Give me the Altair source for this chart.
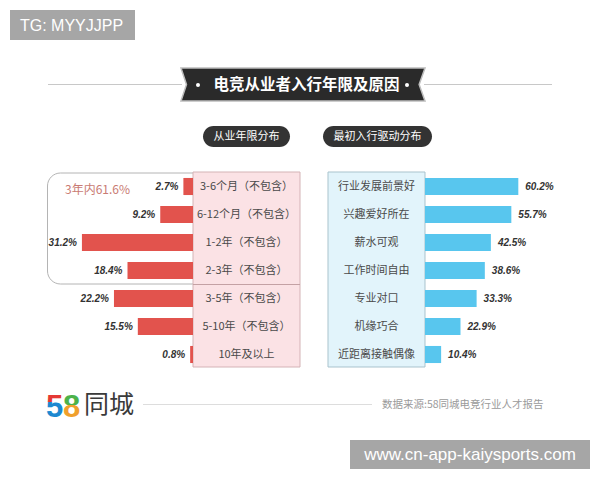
import altair as alt
import pandas as pd

# ---------------- data ----------------
left_labels = ["3-6个月（不包含）", "6-12个月（不包含）", "1-2年（不包含）", "2-3年（不包含）",
               "3-5年（不包含）", "5-10年（不包含）", "10年及以上"]
left_values = [2.7, 9.2, 31.2, 18.4, 22.2, 15.5, 0.8]
right_labels = ["行业发展前景好", "兴趣爱好所在", "薪水可观", "工作时间自由",
                "专业对口", "机缘巧合", "近距离接触偶像"]
right_values = [60.2, 55.7, 42.5, 38.6, 33.3, 22.9, 10.4]

title_text = "电竞从业者入行年限及原因"
left_pill = "从业年限分布"
right_pill = "最初入行驱动分布"
group_note = "3年内61.6%"
source_text = "数据来源:58同城电竞行业人才报告"

left_df = pd.DataFrame({"row": list(range(len(left_labels))), "label": left_labels,
                        "value": left_values, "txt": [f"{v}%" for v in left_values]})
right_df = pd.DataFrame({"row": list(range(len(right_labels))), "label": right_labels,
                         "value": right_values, "txt": [f"{v}%" for v in right_values]})
one = pd.DataFrame({"a": [0]})

CJK = "Noto Sans CJK SC"
LAT = "Liberation Sans"
RED = "#e2534d"
BLUE = "#58c6ee"

yscale = alt.Scale(type="band", domain=list(range(7)), range=[172.5, 368.5],
                   paddingInner=0.39, paddingOuter=0.195)
lx = alt.Scale(domain=[0, 50], range=[193, 15], nice=False, zero=True)
rx = alt.Scale(domain=[0, 60], range=[425, 518], nice=False, zero=True)


def rect(x1, x2, y1, y2, **kw):
    return alt.Chart(one).mark_rect(**kw).encode(
        x=alt.value(x1), x2=alt.value(x2), y=alt.value(y1), y2=alt.value(y2))


def rule(x1, x2, y, **kw):
    return alt.Chart(one).mark_rule(**kw).encode(x=alt.value(x1), x2=alt.value(x2), y=alt.value(y))


def text(t, x, y, **kw):
    return alt.Chart(one).mark_text(text=t, **kw).encode(x=alt.value(x), y=alt.value(y))


layers = []

# header lines + ribbon
layers.append(rule(48, 182, 84.5, color="#c8c8c8", strokeWidth=1))
layers.append(rule(424, 552, 84.5, color="#c8c8c8", strokeWidth=1))
ribbon_path = "M-1,-0.135 L1,-0.135 L0.952,0 L1,0.135 L-1,0.135 L-0.955,0 Z"
layers.append(alt.Chart(one).mark_point(shape=ribbon_path, size=244 ** 2, filled=True,
                                        color="#2a2a2a", stroke="#bdbdbd", strokeWidth=1.5,
                                        opacity=1).encode(x=alt.value(303), y=alt.value(84.5)))
for bx in (198, 407):
    layers.append(alt.Chart(one).mark_point(shape="circle", size=16, filled=True, color="white",
                                            opacity=1).encode(x=alt.value(bx), y=alt.value(85)))
layers.append(text(title_text, 306.5, 85, font=CJK, fontSize=15.5, fontWeight="bold",
                   color="white", align="center", baseline="middle"))

# pills
layers.append(rect(203, 290, 126, 147, color="#333333", cornerRadius=10.5))
layers.append(text(left_pill, 246.5, 136.5, font=CJK, fontSize=11, color="white",
                   align="center", baseline="middle"))
layers.append(rect(323, 432, 126, 147, color="#333333", cornerRadius=10.5))
layers.append(text(right_pill, 377.5, 136.5, font=CJK, fontSize=11, color="white",
                   align="center", baseline="middle"))

# rounded group outline
layers.append(rect(47.5, 260, 173, 284, fill="white", stroke="#b4b4b4", strokeWidth=1,
                   cornerRadius=13))
layers.append(text(group_note, 65, 190, font=CJK, fontSize=12, color="#c97b73",
                   align="left", baseline="middle"))

# label columns
layers.append(rect(193, 300, 172, 367, fill="#fbe2e5", stroke="#d4b3b6", strokeWidth=1))
layers.append(rule(193, 300, 284.5, color="#c4a1a4", strokeWidth=1))
layers.append(rect(328, 425, 172, 367, fill="#e2f4fb", stroke="#a9c3cd", strokeWidth=1))

# left bars
layers.append(alt.Chart(left_df).mark_bar(color=RED).encode(
    x=alt.X("value:Q", scale=lx, axis=None),
    y=alt.Y("row:O", scale=yscale, axis=None)))
layers.append(alt.Chart(left_df).mark_text(align="right", baseline="middle", dx=-5, font=LAT,
                                           fontSize=10, fontWeight="bold", fontStyle="italic",
                                           color="#333333").encode(
    x=alt.X("value:Q", scale=lx, axis=None),
    y=alt.Y("row:O", scale=yscale, axis=None),
    text="txt:N"))
layers.append(alt.Chart(left_df).mark_text(align="center", baseline="middle", font=CJK,
                                           fontSize=11, color="#4a4a4a").encode(
    x=alt.value(246.5),
    y=alt.Y("row:O", scale=yscale, axis=None),
    text="label:N"))

# right bars
layers.append(alt.Chart(right_df).mark_bar(color=BLUE).encode(
    x=alt.X("value:Q", scale=rx, axis=None),
    y=alt.Y("row:O", scale=yscale, axis=None)))
layers.append(alt.Chart(right_df).mark_text(align="left", baseline="middle", dx=7, font=LAT,
                                            fontSize=10, fontWeight="bold", fontStyle="italic",
                                            color="#333333").encode(
    x=alt.X("value:Q", scale=rx, axis=None),
    y=alt.Y("row:O", scale=yscale, axis=None),
    text="txt:N"))
layers.append(alt.Chart(right_df).mark_text(align="center", baseline="middle", font=CJK,
                                            fontSize=11, color="#4a4a4a").encode(
    x=alt.value(376.5),
    y=alt.Y("row:O", scale=yscale, axis=None),
    text="label:N"))

# footer
five_grad = alt.LinearGradient(gradient="linear", x1=0, y1=0, x2=0, y2=1, stops=[
    alt.GradientStop(color="#e53935", offset=0), alt.GradientStop(color="#e53935", offset=0.38),
    alt.GradientStop(color="#1e88d0", offset=0.38), alt.GradientStop(color="#1e88d0", offset=1)])
eight_grad = alt.LinearGradient(gradient="linear", x1=0, y1=0, x2=0, y2=1, stops=[
    alt.GradientStop(color="#4db24a", offset=0), alt.GradientStop(color="#4db24a", offset=0.47),
    alt.GradientStop(color="#f0a02c", offset=0.47), alt.GradientStop(color="#f0a02c", offset=1)])
layers.append(text("5", 46, 417, font=LAT, fontSize=31, fontWeight="bold", fill=five_grad,
                   align="left", baseline="alphabetic"))
layers.append(text("8", 63, 417, font=LAT, fontSize=31, fontWeight="bold", fill=eight_grad,
                   align="left", baseline="alphabetic"))
layers.append(text("同城", 84, 405, font=CJK, fontSize=25, color="#3a3a3a",
                   align="left", baseline="middle"))
layers.append(rule(143, 372, 404.5, color="#dddddd", strokeWidth=1))
layers.append(text(source_text, 382, 404.5, font=CJK, fontSize=10.5, color="#9a9a9a",
                   align="left", baseline="middle"))

# watermarks
layers.append(rect(10, 135, 10, 40, color="#a6a6a6"))
layers.append(text("TG: MYYJJPP", 20, 25.5, font=LAT, fontSize=16, color="white",
                   align="left", baseline="middle"))
layers.append(rect(350, 590, 440, 469, color="#a6a6a6"))
layers.append(text("www.cn-app-kaiysports.com", 470, 455, font=LAT, fontSize=17,
                   color="white", align="center", baseline="middle"))

chart = alt.layer(*layers).resolve_scale(x="independent").properties(
    width=600, height=480, padding=0, autosize="none", background="white"
).configure_view(stroke=None)

chart.save("out.html", embed_options={"renderer": "svg", "actions": False})
